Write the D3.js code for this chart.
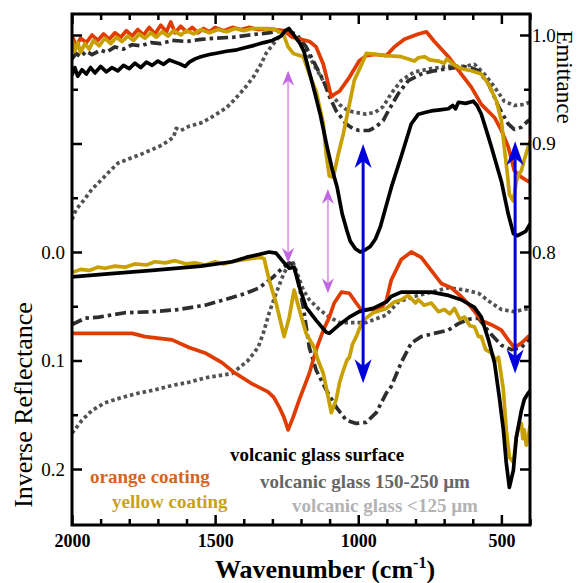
<!DOCTYPE html>
<html>
<head>
<meta charset="utf-8">
<script src="https://cdn.jsdelivr.net/npm/d3@7/dist/d3.min.js"></script>
<style>
body { margin: 0; background: #fff; }
text { font-family: "Liberation Serif", "Times New Roman", serif; }
</style>
</head>
<body>
<script>
// ---- data: [wavenumber, value] ----
// emittance (upper set, right axis)
var emitOrange = [[2000,0.999],[1985,0.990],[1970,0.997],[1950,0.993],[1930,1.000],[1910,0.995],[1890,1.001],[1870,0.996],[1850,1.002],[1830,0.998],[1810,1.004],[1790,0.999],[1770,1.005],[1750,1.000],[1730,1.007],[1710,1.001],[1690,1.009],[1670,1.003],[1655,1.012],[1640,1.002],[1620,1.008],[1600,1.003],[1580,1.007],[1560,1.002],[1540,1.006],[1520,1.003],[1500,1.007],[1470,1.004],[1440,1.007],[1410,1.005],[1380,1.007],[1350,1.005],[1320,1.006],[1290,1.005],[1260,1.004],[1230,0.998],[1200,0.996],[1170,0.994],[1147,0.989],[1122,0.973],[1105,0.955],[1094,0.943],[1080,0.946],[1066,0.948],[1031,0.961],[997,0.976],[972,0.981],[940,0.982],[902,0.981],[874,0.989],[839,0.996],[790,1.001],[762,1.003],[734,0.994],[685,0.980],[640,0.964],[605,0.952],[570,0.936],[524,0.924],[500,0.912],[476,0.897],[455,0.875],[430,0.869],[406,0.865],[400,0.866]];
var emitYellow = [[2000,0.995],[1990,0.985],[1980,0.993],[1970,0.984],[1955,0.992],[1940,0.987],[1925,0.995],[1905,0.990],[1885,0.997],[1865,0.992],[1845,0.998],[1825,0.994],[1805,0.999],[1785,0.995],[1765,1.001],[1745,0.997],[1725,1.002],[1705,0.998],[1685,1.003],[1665,0.999],[1645,1.004],[1620,1.000],[1600,1.004],[1575,1.001],[1550,1.005],[1520,1.002],[1490,1.005],[1460,1.003],[1430,1.006],[1400,1.004],[1370,1.006],[1332,1.006],[1290,1.005],[1262,1.001],[1245,0.989],[1227,0.983],[1192,0.980],[1171,0.964],[1147,0.948],[1122,0.918],[1112,0.890],[1101,0.870],[1087,0.869],[1070,0.890],[1052,0.909],[1031,0.936],[1014,0.958],[983,0.976],[972,0.983],[930,0.982],[902,0.981],[850,0.980],[804,0.976],[790,0.979],[769,0.980],[750,0.977],[720,0.976],[700,0.974],[690,0.978],[668,0.973],[640,0.969],[605,0.967],[570,0.964],[545,0.955],[517,0.939],[500,0.921],[490,0.897],[479,0.872],[472,0.853],[458,0.847],[448,0.865],[438,0.872],[430,0.875],[420,0.885],[406,0.897],[400,0.902]];
var emitSurface = [[2000,0.963],[1990,0.970],[1980,0.962],[1965,0.968],[1950,0.964],[1935,0.970],[1920,0.965],[1900,0.971],[1880,0.966],[1860,0.970],[1840,0.967],[1820,0.972],[1800,0.969],[1780,0.974],[1760,0.970],[1740,0.975],[1720,0.972],[1700,0.976],[1680,0.973],[1660,0.977],[1640,0.975],[1620,0.973],[1605,0.971],[1590,0.975],[1570,0.978],[1550,0.980],[1520,0.982],[1500,0.983],[1460,0.985],[1430,0.986],[1400,0.988],[1370,0.990],[1330,0.993],[1300,0.995],[1270,0.999],[1255,1.004],[1242,1.006],[1225,1.000],[1205,0.993],[1190,0.985],[1168,0.963],[1150,0.945],[1133,0.927],[1109,0.897],[1090,0.875],[1074,0.860],[1056,0.835],[1040,0.820],[1028,0.810],[1010,0.803],[993,0.800],[975,0.802],[958,0.805],[940,0.812],[923,0.823],[905,0.840],[884,0.860],[850,0.888],[815,0.918],[790,0.927],[760,0.929],[745,0.930],[715,0.931],[685,0.932],[670,0.935],[660,0.932],[650,0.938],[625,0.937],[598,0.939],[585,0.935],[570,0.927],[550,0.910],[535,0.897],[500,0.865],[476,0.835],[458,0.817],[445,0.815],[430,0.817],[415,0.819],[406,0.823],[400,0.826]];
var emit150 = [[2000,0.978],[1985,0.983],[1970,0.980],[1950,0.985],[1930,0.982],[1900,0.986],[1880,0.984],[1850,0.989],[1820,0.987],[1790,0.991],[1760,0.990],[1724,0.993],[1690,0.992],[1650,0.995],[1600,0.994],[1549,0.996],[1500,0.997],[1434,0.998],[1380,1.000],[1315,1.002],[1262,1.004],[1217,1.001],[1182,0.989],[1157,0.976],[1122,0.958],[1100,0.943],[1077,0.930],[1042,0.918],[1020,0.914],[997,0.912],[962,0.912],[940,0.915],[913,0.921],[895,0.930],[860,0.946],[825,0.958],[780,0.964],[734,0.967],[685,0.969],[640,0.971],[610,0.970],[580,0.967],[545,0.955],[510,0.934],[476,0.918],[455,0.913],[430,0.915],[406,0.921],[400,0.922]];
var emit125 = [[2000,0.830],[1986,0.839],[1958,0.848],[1930,0.858],[1899,0.866],[1870,0.874],[1839,0.882],[1800,0.886],[1760,0.890],[1724,0.894],[1690,0.898],[1660,0.903],[1645,0.906],[1636,0.914],[1620,0.912],[1590,0.916],[1549,0.919],[1520,0.923],[1490,0.928],[1460,0.933],[1434,0.940],[1400,0.950],[1367,0.961],[1340,0.973],[1322,0.983],[1287,0.995],[1262,1.003],[1240,1.002],[1227,1.000],[1199,0.991],[1171,0.980],[1136,0.964],[1101,0.948],[1066,0.936],[1040,0.931],[1017,0.929],[972,0.927],[940,0.929],[913,0.934],[885,0.946],[850,0.958],[804,0.966],[745,0.969],[685,0.971],[629,0.971],[594,0.973],[559,0.964],[524,0.952],[490,0.939],[455,0.935],[420,0.936],[402,0.938]];

// inverse reflectance (lower set, left axis)
var reflOrange = [[2000,0.075],[1900,0.075],[1790,0.075],[1745,0.078],[1650,0.081],[1591,0.088],[1535,0.093],[1476,0.102],[1434,0.111],[1374,0.121],[1315,0.129],[1295,0.134],[1276,0.143],[1260,0.152],[1245,0.164],[1227,0.152],[1206,0.136],[1171,0.112],[1147,0.090],[1122,0.072],[1101,0.060],[1084,0.047],[1059,0.037],[1031,0.038],[1007,0.047],[990,0.053],[948,0.053],[915,0.050],[902,0.045],[885,0.026],[850,0.007],[815,0.000],[780,0.005],[745,0.017],[710,0.029],[675,0.033],[640,0.041],[605,0.051],[570,0.063],[535,0.067],[500,0.072],[476,0.081],[455,0.088],[430,0.084],[406,0.078],[400,0.077]];
var reflYellow = [[2000,0.019],[1970,0.016],[1940,0.017],[1910,0.014],[1885,0.015],[1850,0.013],[1815,0.014],[1780,0.011],[1740,0.012],[1710,0.009],[1675,0.010],[1640,0.008],[1600,0.011],[1570,0.010],[1535,0.012],[1500,0.009],[1470,0.011],[1441,0.009],[1400,0.007],[1370,0.006],[1346,0.005],[1329,0.006],[1311,0.026],[1287,0.047],[1259,0.078],[1241,0.060],[1224,0.035],[1206,0.053],[1182,0.075],[1154,0.088],[1140,0.100],[1122,0.112],[1105,0.134],[1094,0.148],[1077,0.136],[1065,0.120],[1052,0.109],[1040,0.100],[1031,0.097],[1020,0.085],[1007,0.078],[995,0.070],[983,0.063],[948,0.056],[902,0.052],[874,0.046],[850,0.044],[825,0.040],[800,0.047],[790,0.044],[770,0.049],[745,0.047],[720,0.055],[699,0.053],[680,0.057],[664,0.052],[645,0.062],[629,0.060],[610,0.068],[594,0.069],[580,0.078],[570,0.078],[555,0.090],[535,0.093],[520,0.100],[510,0.097],[493,0.127],[483,0.164],[472,0.189],[458,0.194],[448,0.171],[440,0.162],[430,0.158],[425,0.172],[420,0.164],[413,0.178],[406,0.171],[400,0.160]];
var reflSurface = [[2000,0.023],[1864,0.020],[1720,0.017],[1549,0.013],[1441,0.009],[1392,0.005],[1311,0.000],[1287,0.001],[1259,0.010],[1241,0.015],[1224,0.014],[1206,0.032],[1182,0.051],[1147,0.063],[1112,0.074],[1101,0.075],[1066,0.067],[1031,0.060],[997,0.055],[948,0.052],[902,0.046],[885,0.041],[850,0.037],[745,0.037],[685,0.040],[640,0.044],[594,0.051],[570,0.060],[545,0.081],[524,0.102],[507,0.134],[493,0.164],[483,0.194],[472,0.217],[458,0.201],[448,0.171],[430,0.146],[420,0.136],[406,0.130],[400,0.128]];
var refl150 = [[2000,0.067],[1955,0.061],[1906,0.060],[1815,0.056],[1720,0.055],[1626,0.053],[1535,0.049],[1441,0.042],[1392,0.038],[1346,0.033],[1297,0.023],[1262,0.014],[1241,0.010],[1227,0.012],[1210,0.026],[1192,0.051],[1171,0.088],[1147,0.109],[1112,0.127],[1077,0.143],[1042,0.155],[1007,0.158],[972,0.157],[937,0.148],[902,0.130],[885,0.124],[850,0.102],[815,0.084],[780,0.078],[734,0.075],[685,0.072],[650,0.066],[615,0.062],[580,0.061],[560,0.068],[535,0.076],[500,0.086],[465,0.090],[430,0.088],[406,0.081],[400,0.080]];
var refl125 = [[2000,0.167],[1965,0.155],[1930,0.146],[1885,0.139],[1825,0.134],[1766,0.130],[1710,0.127],[1650,0.123],[1591,0.120],[1535,0.116],[1441,0.112],[1385,0.100],[1350,0.088],[1332,0.075],[1311,0.056],[1287,0.038],[1262,0.021],[1245,0.012],[1227,0.010],[1192,0.035],[1171,0.044],[1136,0.053],[1101,0.060],[1066,0.065],[1017,0.065],[972,0.065],[902,0.058],[860,0.046],[804,0.041],[745,0.037],[685,0.033],[629,0.035],[580,0.038],[535,0.047],[500,0.053],[455,0.055],[406,0.052],[400,0.051]];

// arrows: wavenumber, emittance at top tip, inverse reflectance at bottom tip
var violetArrows = [[1245,0.967,0.010],[1106,0.858,0.038]];
var blueArrows = [[983,0.8995,0.121],[452,0.902,0.112]];

// ticks
var xMajor = [2000,1500,1000,500];
var xMinor = [1900,1800,1700,1600,1400,1300,1200,1100,900,800,700,600,400];
var rMajor = [-0.2,-0.1,0,0.1,0.2];
var rMinor = [-0.15,-0.05,0.05,0.15];
var eMajor = [0.6,0.7,0.8,0.9,1.0];
var eMinor = [0.65,0.75,0.85,0.95];

var legendLabels = ["volcanic glass surface","orange coating","volcanic glass 150-250 \u00b5m","yellow coating","volcanic glass <125 \u00b5m"];

var w = 578, h = 583;
var mLeft = 72, mRight = 530, mTop = 14, mBottom = 525;

var svg = d3.select("body").append("svg")
	.attr("width", w)
	.attr("height", h);

var x = d3.scaleLinear().domain([2000, 400]).range([mLeft, mRight]);
var yE = d3.scaleLinear().domain([0.8, 1.0]).range([252, 35]);
var yR = d3.scaleLinear().domain([0, 0.2]).range([252, 469]);

svg.append("clipPath").attr("id", "clip")
	.append("rect")
	.attr("x", mLeft).attr("y", mTop)
	.attr("width", mRight - mLeft).attr("height", mBottom - mTop);

var plot = svg.append("g").attr("clip-path", "url(#clip)");

var lineE = d3.line().x(function(d) { return x(d[0]); }).y(function(d) { return yE(d[1]); });
var lineR = d3.line().x(function(d) { return x(d[0]); }).y(function(d) { return yR(d[1]); });

var series = [
	{e: emit125, r: refl125, color: "#525252", dash: "3.5,3"},
	{e: emit150, r: refl150, color: "#2e2e2e", dash: "11,4,3.5,4"},
	{e: emitOrange, r: reflOrange, color: "#e03c00", dash: null},
	{e: emitYellow, r: reflYellow, color: "#c8a000", dash: null},
	{e: emitSurface, r: reflSurface, color: "#000000", dash: null}
];

series.forEach(function(s) {
	[[s.e, lineE], [s.r, lineR]].forEach(function(p) {
		plot.append("path")
			.datum(p[0])
			.attr("d", p[1])
			.attr("fill", "none")
			.attr("stroke", s.color)
			.attr("stroke-width", 3.7)
			.attr("stroke-linejoin", "round")
			.attr("stroke-dasharray", s.dash);
	});
});

// double arrows
function drawArrow(a, lineColor, headColor, lw, hw, hl, notch) {
	var cx = x(a[0]);
	var ty = yE(a[1]);
	var by = yR(a[2]);
	svg.append("line")
		.attr("x1", cx).attr("x2", cx)
		.attr("y1", ty + hl - notch).attr("y2", by - hl + notch)
		.attr("stroke", lineColor)
		.attr("stroke-width", lw);
	svg.append("path")
		.attr("d", "M" + cx + "," + ty + "L" + (cx + hw) + "," + (ty + hl) + "L" + cx + "," + (ty + hl - notch) + "L" + (cx - hw) + "," + (ty + hl) + "Z")
		.attr("fill", headColor);
	svg.append("path")
		.attr("d", "M" + cx + "," + by + "L" + (cx + hw) + "," + (by - hl) + "L" + cx + "," + (by - hl + notch) + "L" + (cx - hw) + "," + (by - hl) + "Z")
		.attr("fill", headColor);
}
violetArrows.forEach(function(a) { drawArrow(a, "#dfa6ee", "#c265e2", 2, 6, 15, 5); });
blueArrows.forEach(function(a) { drawArrow(a, "#0000dd", "#0000dd", 3, 8.5, 24, 7); });

// axes
var fmt = d3.format(".1f");
svg.append("g").attr("class", "xax").attr("transform", "translate(0," + mBottom + ")")
	.call(d3.axisBottom(x).tickValues(xMajor).tickSize(-10).tickPadding(9).tickFormat(d3.format("d")));
svg.append("g").attr("transform", "translate(0," + mBottom + ")")
	.call(d3.axisBottom(x).tickValues(xMinor).tickSize(-6).tickFormat(""));
svg.append("g").attr("transform", "translate(0," + mTop + ")")
	.call(d3.axisTop(x).tickValues(xMajor).tickSize(-10).tickFormat(""));
svg.append("g").attr("transform", "translate(0," + mTop + ")")
	.call(d3.axisTop(x).tickValues(xMinor).tickSize(-6).tickFormat(""));
svg.append("g").attr("transform", "translate(" + mLeft + ",0)")
	.call(d3.axisLeft(yR).tickValues(rMajor).tickSize(-10).tickPadding(7)
		.tickFormat(function(d) { return d >= 0 ? fmt(d) : ""; }));
svg.append("g").attr("transform", "translate(" + mLeft + ",0)")
	.call(d3.axisLeft(yR).tickValues(rMinor).tickSize(-6).tickFormat(""));
svg.append("g").attr("transform", "translate(" + mRight + ",0)")
	.call(d3.axisRight(yE).tickValues(eMajor).tickSize(-10).tickPadding(2)
		.tickFormat(function(d) { return d >= 0.8 ? fmt(d) : ""; }));
svg.append("g").attr("transform", "translate(" + mRight + ",0)")
	.call(d3.axisRight(yE).tickValues(eMinor).tickSize(-6).tickFormat(""));

svg.selectAll(".domain").remove();
svg.selectAll(".tick line").attr("stroke", "#000").attr("stroke-width", 2.5);
svg.selectAll(".tick text")
	.attr("fill", "#000")
	.attr("font-size", "19px")
	.attr("font-family", "Liberation Serif, serif");
svg.selectAll(".xax .tick text")
	.attr("font-size", "18px")
	.attr("font-weight", "bold");

svg.append("rect")
	.attr("x", mLeft).attr("y", mTop)
	.attr("width", mRight - mLeft).attr("height", mBottom - mTop)
	.attr("fill", "none")
	.attr("stroke", "#000")
	.attr("stroke-width", 3);

// axis titles
svg.append("text")
	.attr("transform", "translate(32,405) rotate(-90)")
	.attr("text-anchor", "middle")
	.attr("font-size", "26px")
	.text("Inverse Reflectance");
svg.append("text")
	.attr("transform", "translate(557,77) rotate(90)")
	.attr("text-anchor", "middle")
	.attr("font-size", "23px")
	.text("Emittance");
var xt = svg.append("text")
	.attr("x", 325).attr("y", 578)
	.attr("text-anchor", "middle")
	.attr("font-size", "26px")
	.attr("font-weight", "bold");
xt.append("tspan").text("Wavenumber (cm");
xt.append("tspan").attr("dy", -10).attr("font-size", "16px").text("-1");
xt.append("tspan").attr("dy", 10).text(")");

// labels
var legendPos = [[230, 461, "#000000"], [90, 483, "#d6651e"], [260, 488, "#666666"], [112, 508, "#c9a21a"], [292, 512, "#b3b3b3"]];
svg.selectAll(".lab")
	.data(legendLabels)
	.enter()
	.append("text")
	.attr("class", "lab")
	.attr("x", function(d, i) { return legendPos[i][0]; })
	.attr("y", function(d, i) { return legendPos[i][1]; })
	.attr("fill", function(d, i) { return legendPos[i][2]; })
	.attr("font-size", "19px")
	.attr("font-weight", "bold")
	.text(function(d) { return d; });
</script>
</body>
</html>
